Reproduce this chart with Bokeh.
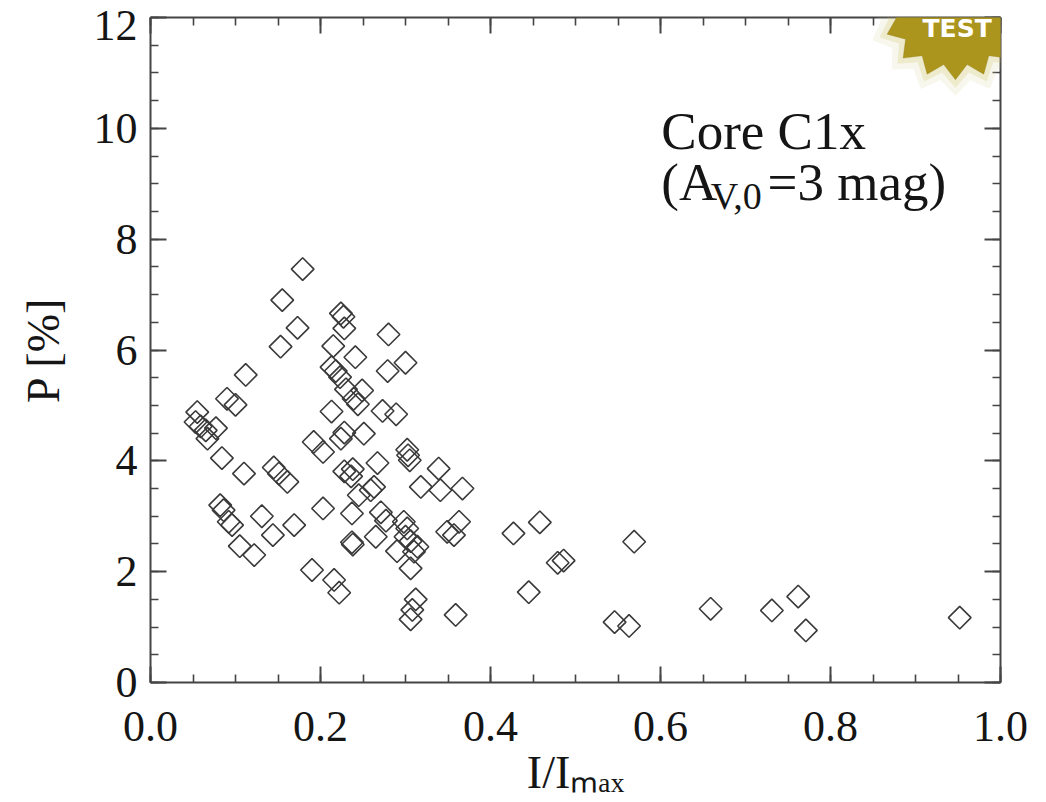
import numpy as np
from bokeh.plotting import figure
from bokeh.models import (Range1d, LinearAxis, SingleIntervalTicker, Label,
                          PolyAnnotation, NumeralTickFormatter, CustomJSTickFormatter)
from bokeh.embed import file_html
from bokeh.resources import INLINE

# ---- data ----
intensity = [0.055, 0.053, 0.059, 0.065, 0.077, 0.067, 0.084, 0.110, 0.090, 0.100,
             0.112, 0.153, 0.173, 0.155, 0.179, 0.145, 0.151, 0.161, 0.082, 0.086,
             0.092, 0.096, 0.131, 0.144, 0.169, 0.105, 0.122, 0.190, 0.216, 0.222,
             0.203, 0.192, 0.203, 0.213, 0.215, 0.213, 0.218, 0.223, 0.224, 0.227,
             0.228, 0.241, 0.230, 0.239, 0.244, 0.249, 0.224, 0.228, 0.251, 0.228,
             0.238, 0.236, 0.245, 0.259, 0.263, 0.267, 0.237, 0.237, 0.238, 0.265,
             0.271, 0.277, 0.280, 0.279, 0.300, 0.273, 0.289, 0.302, 0.303, 0.305,
             0.298, 0.302, 0.300, 0.306, 0.314, 0.290, 0.310, 0.306, 0.312, 0.308,
             0.306, 0.318, 0.339, 0.341, 0.367, 0.349, 0.363, 0.357, 0.359,
             0.427, 0.458, 0.479, 0.486, 0.445, 0.569, 0.546, 0.563, 0.659, 0.731,
             0.762, 0.771, 0.952]
polarization = [4.88, 4.70, 4.62, 4.55, 4.59, 4.40, 4.05, 3.77, 5.12, 5.01,
                5.55, 6.06, 6.40, 6.90, 7.46, 3.88, 3.77, 3.62, 3.20, 3.11,
                2.90, 2.84, 3.00, 2.66, 2.84, 2.46, 2.30, 2.03, 1.85, 1.62,
                3.14, 4.34, 4.16, 4.89, 6.07, 5.69, 5.62, 5.51, 6.66, 6.60,
                6.39, 5.87, 5.29, 5.12, 5.02, 5.27, 4.40, 4.51, 4.49, 3.81,
                3.85, 3.72, 3.38, 3.47, 3.53, 3.96, 3.05, 2.53, 2.49, 2.63,
                3.07, 2.92, 6.28, 5.62, 5.77, 4.90, 4.84, 4.20, 4.10, 4.01,
                2.90, 2.78, 2.63, 2.55, 2.45, 2.37, 2.36, 2.06, 1.50, 1.31,
                1.14, 3.53, 3.86, 3.47, 3.50, 2.72, 2.90, 2.66, 1.22,
                2.69, 2.89, 2.16, 2.20, 1.63, 2.54, 1.09, 1.02, 1.33, 1.30,
                1.55, 0.94, 1.17]

x_limits = (0.0, 1.0)
y_limits = (0.0, 12.0)
x_major_step = 0.2
y_major_step = 2.0
# top label of the y axis sits inside the box, as in the reference
y_label_overrides = {12: "\u00a0\n12"}

title_line1 = "Core C1x"
title_line2 = ["(A", "V,0", "=3 mag)"]
x_label = "I/I\u2098\u2090\u2093"
y_label = "P [%]"
badge_text = "TEST"

SERIF = "Liberation Serif"
AXIS_COLOR = "#454545"
TEXT_COLOR = "#151515"

p = figure(width=1044, height=800, output_backend="svg", toolbar_location=None,
           x_range=Range1d(*x_limits), y_range=Range1d(*y_limits),
           x_axis_type=None, y_axis_type=None,
           min_border_left=150, min_border_right=44, min_border_top=17,
           min_border_bottom=117)
p.outline_line_color = None
p.background_fill_color = "white"
p.border_fill_color = "white"
p.xgrid.visible = False
p.ygrid.visible = False

blank = CustomJSTickFormatter(code="return ''")


def style_axis(ax, show_labels):
    ax.axis_line_color = AXIS_COLOR
    ax.axis_line_width = 2
    ax.major_tick_in = 16
    ax.major_tick_out = 0
    ax.minor_tick_in = 8
    ax.minor_tick_out = 0
    ax.major_tick_line_color = AXIS_COLOR
    ax.major_tick_line_width = 2
    ax.minor_tick_line_color = AXIS_COLOR
    ax.minor_tick_line_width = 1.6
    ax.major_label_text_font = SERIF
    ax.major_label_text_color = TEXT_COLOR
    ax.major_label_text_font_size = "44px"
    if not show_labels:
        ax.formatter = blank
        ax.major_label_standoff = 0


xb = LinearAxis(ticker=SingleIntervalTicker(interval=x_major_step, num_minor_ticks=4),
                formatter=NumeralTickFormatter(format="0.0"))
style_axis(xb, True)
xb.major_label_standoff = 29
xb.axis_label = x_label
xb.axis_label_text_font = SERIF
xb.axis_label_text_font_size = "46px"
xb.axis_label_text_font_style = "normal"
xb.axis_label_text_color = TEXT_COLOR
xb.axis_label_standoff = 3
p.add_layout(xb, "below")

xt = LinearAxis(ticker=SingleIntervalTicker(interval=x_major_step, num_minor_ticks=4))
style_axis(xt, False)
p.add_layout(xt, "above")

yl = LinearAxis(ticker=SingleIntervalTicker(interval=y_major_step, num_minor_ticks=4),
                formatter=NumeralTickFormatter(format="0"))
style_axis(yl, True)
yl.major_label_standoff = 13
yl.major_label_overrides = y_label_overrides
yl.major_label_text_line_height = 0.02
yl.axis_label = y_label
yl.axis_label_text_font = SERIF
yl.axis_label_text_font_size = "46px"
yl.axis_label_text_font_style = "normal"
yl.axis_label_text_color = TEXT_COLOR
yl.axis_label_standoff = 22
p.add_layout(yl, "left")

yr = LinearAxis(ticker=SingleIntervalTicker(interval=y_major_step, num_minor_ticks=4))
style_axis(yr, False)
p.add_layout(yr, "right")

# data points: open diamonds
p.scatter(intensity, polarization, marker="square", angle=np.pi / 4, size=16,
          fill_color=None, line_color="#3a3a3a", line_width=1.6)

# in-plot annotation
p.add_layout(Label(x=0.601, y=9.96, text=title_line1, text_align="left",
                   text_baseline="alphabetic", text_font=SERIF, text_font_size="53px",
                   text_color=TEXT_COLOR))
p.add_layout(Label(x=0.601, y=9.04, text=title_line2[0], text_align="left",
                   text_baseline="alphabetic", text_font=SERIF, text_font_size="53px",
                   text_color=TEXT_COLOR))
p.add_layout(Label(x=0.659, y=8.78, text=title_line2[1], text_align="left",
                   text_baseline="alphabetic", text_font=SERIF, text_font_size="38px",
                   text_color=TEXT_COLOR))
p.add_layout(Label(x=0.726, y=9.04, text=title_line2[2], text_align="left",
                   text_baseline="alphabetic", text_font=SERIF, text_font_size="53px",
                   text_color=TEXT_COLOR))

# "TEST" badge (starburst) in the top-right corner
px_x = (x_limits[1] - x_limits[0]) / 850.0
px_y = (y_limits[1] - y_limits[0]) / 666.0
cx, cy = 0.947, 12.21
n_spikes = 16
for r_out, r_in, col, alpha in [(90, 76, "#d8d49a", 0.18), (82, 68, "#cfc46a", 0.25)]:
    ang = np.linspace(0, 2 * np.pi, 2 * n_spikes, endpoint=False) - np.pi / 2
    rad = np.where(np.arange(2 * n_spikes) % 2 == 0, r_out, r_in)
    p.add_layout(PolyAnnotation(xs=list(cx + rad * np.cos(ang) * px_x),
                                ys=list(cy - rad * np.sin(ang) * px_y),
                                fill_color=col, fill_alpha=alpha, line_color=None,
                                level="overlay"))
ang = np.linspace(0, 2 * np.pi, 2 * n_spikes, endpoint=False) + np.pi / 2
rad = np.where(np.arange(2 * n_spikes) % 2 == 0, 74, 60)
p.add_layout(PolyAnnotation(xs=list(cx + rad * np.cos(ang) * px_x),
                            ys=list(cy - rad * np.sin(ang) * px_y),
                            fill_color="#ab951d", fill_alpha=1.0, line_color="#8f7c14",
                            line_width=1, level="overlay"))
p.add_layout(Label(x=cx + 0.002, y=11.80, text=badge_text, text_align="center",
                   text_baseline="middle", text_font="DejaVu Sans",
                   text_font_style="bold", text_font_size="25px", text_color="white",
                   level="overlay"))

open("out.html", "w").write(file_html(p, INLINE))
